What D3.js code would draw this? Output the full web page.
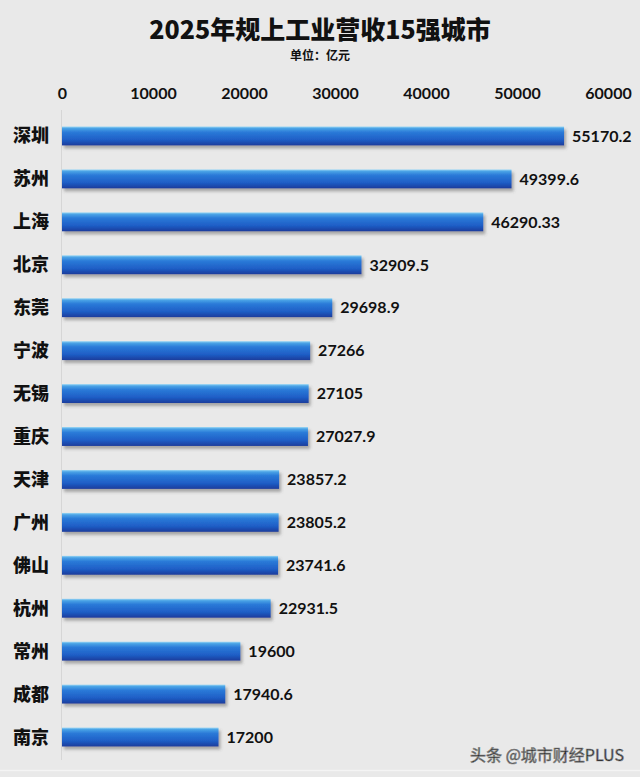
<!DOCTYPE html>
<html>
<head>
<meta charset="utf-8">
<script src="https://cdn.jsdelivr.net/npm/d3@7"></script>
<style>
  html, body { margin: 0; padding: 0; background: #e9e9e9; }
  svg { display: block; }
  text { font-family: Lato, "Noto Sans CJK SC", sans-serif; font-weight: bold; fill: #111; }
</style>
</head>
<body>
<svg id="chart" width="640" height="777"></svg>
<script>
// data
const cities = ['深圳', '苏州', '上海', '北京', '东莞', '宁波', '无锡', '重庆',
                '天津', '广州', '佛山', '杭州', '常州', '成都', '南京'];
const revenue = [55170.2, 49399.6, 46290.33, 32909.5, 29698.9, 27266, 27105, 27027.9,
                 23857.2, 23805.2, 23741.6, 22931.5, 19600, 17940.6, 17200];
const valueLabels = ['55170.2', '49399.6', '46290.33', '32909.5', '29698.9', '27266', '27105', '27027.9',
                     '23857.2', '23805.2', '23741.6', '22931.5', '19600', '17940.6', '17200'];
const ticks = [0, 10000, 20000, 30000, 40000, 50000, 60000];

const svg = d3.select('#chart');
const W = 640, H = 777;

svg.append('rect').attr('width', W).attr('height', H).attr('fill', '#e9e9e9');
// faint frame bottom line
svg.append('line').attr('x1', 0).attr('x2', W).attr('y1', 770.5).attr('y2', 770.5)
  .attr('stroke', '#f4f4f4').attr('stroke-width', 1.5);

const defs = svg.append('defs');
const grad = defs.append('linearGradient').attr('id', 'barGrad')
  .attr('x1', 0).attr('y1', 0).attr('x2', 0).attr('y2', 1);
[[0, '#9ad6f4'], [0.1, '#4aa3e6'], [0.3, '#2a7ad8'], [0.7, '#1f5ec6'], [1, '#1a3c9c']]
  .forEach(([o, c]) => grad.append('stop').attr('offset', o).attr('stop-color', c));

const shadow = defs.append('filter').attr('id', 'shadow')
  .attr('x', '-5%').attr('y', '-30%').attr('width', '110%').attr('height', '180%');
shadow.append('feDropShadow').attr('dx', 2).attr('dy', 3).attr('stdDeviation', 1.6)
  .attr('flood-color', '#555').attr('flood-opacity', 0.45);

const x = d3.scaleLinear().domain([0, 60000]).range([62, 608]);
const y = d3.scaleBand().domain(cities).range([114.5, 758.5]).paddingInner(0.56).paddingOuter(0.28);

// title
svg.append('text').attr('x', 320).attr('y', 39).attr('text-anchor', 'middle')
  .style('font-size', '25px').style('font-family', '"Noto Sans CJK SC", sans-serif').style('font-weight', 900)
  .text('2025年规上工业营收15强城市');
svg.append('text').attr('x', 320).attr('y', 60).attr('text-anchor', 'middle')
  .style('font-size', '12px').style('font-family', '"Noto Sans CJK SC", sans-serif')
  .text('单位：亿元');

// top axis labels
const axis = d3.axisTop(x).tickValues(ticks).tickSize(0).tickPadding(0).tickFormat(d3.format('d'));
const gAxis = svg.append('g').attr('transform', 'translate(0,99)').call(axis);
gAxis.select('.domain').remove();
gAxis.selectAll('text').style('font-size', '16px').style('font-family', 'Lato, sans-serif')
  .style('font-weight', 'bold').attr('fill', '#111');

// vertical axis line
svg.append('line').attr('x1', 61.5).attr('x2', 61.5).attr('y1', 110).attr('y2', 760)
  .attr('stroke', '#d6d6d6').attr('stroke-width', 1);

const rows = svg.append('g').selectAll('g').data(cities).join('g')
  .attr('transform', d => `translate(0,${y(d)})`);

rows.append('rect')
  .attr('x', x(0))
  .attr('y', 0)
  .attr('width', (d, i) => x(revenue[i]) - x(0))
  .attr('height', y.bandwidth())
  .attr('fill', 'url(#barGrad)')
  .attr('filter', 'url(#shadow)');

rows.append('text')
  .attr('x', 13)
  .attr('y', y.bandwidth() / 2)
  .attr('dy', '0.36em')
  .style('font-size', '18px')
  .style('font-family', '"Noto Sans CJK SC", sans-serif')
  .style('font-weight', 900)
  .text(d => d);

rows.append('text')
  .attr('x', (d, i) => x(revenue[i]) + 8)
  .attr('y', y.bandwidth() / 2)
  .attr('dy', '0.36em')
  .style('font-size', '16px')
  .text((d, i) => valueLabels[i]);

// watermark
svg.append('text').attr('x', 624).attr('y', 761).attr('text-anchor', 'end')
  .style('font-size', '16px').style('font-family', '"Noto Sans CJK SC", sans-serif')
  .style('font-weight', 400)
  .attr('fill', '#f6f6f6').attr('stroke', '#8a8a8a').attr('stroke-width', 0.7)
  .attr('paint-order', 'fill')
  .text('头条 @城市财经PLUS');
</script>
</body>
</html>
